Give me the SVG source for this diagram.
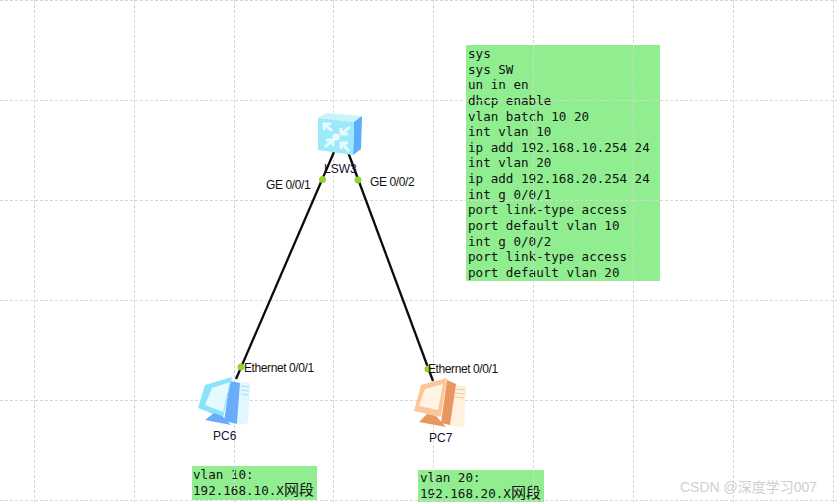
<svg xmlns="http://www.w3.org/2000/svg" width="837" height="502" viewBox="0 0 837 502">
<style>
.grid{stroke:#d6d6d6;stroke-width:1;stroke-dasharray:3 2;fill:none}
.note{fill:#90ee90}
.mono{font-family:"DejaVu Sans Mono","Noto Sans CJK SC",monospace;font-size:12.58px;fill:#111}
.cjk{font-size:15px}
.lbl{font-family:"Liberation Sans",Arial,sans-serif;font-size:12px;fill:#111;letter-spacing:-.4px}
.name{font-family:"Liberation Sans",Arial,sans-serif;font-size:12px;fill:#1a1030}
.link{stroke:#0c0c0c;stroke-width:2.300;fill:none}
.dot{fill:#8fd32e}
</style>
<rect width="837" height="502" fill="#fff"/>
<g id="note-config">
<rect class="note" x="466" y="45" width="194" height="236"/>
<text class="mono" xml:space="preserve"><tspan x="468" y="58">sys</tspan><tspan x="468" y="73.6">sys SW</tspan><tspan x="468" y="89.2">un in en</tspan><tspan x="468" y="104.9">dhcp enable</tspan><tspan x="468" y="120.5">vlan batch 10 20</tspan><tspan x="468" y="136.1">int vlan 10</tspan><tspan x="468" y="151.8">ip add 192.168.10.254 24</tspan><tspan x="468" y="167.4">int vlan 20</tspan><tspan x="468" y="183">ip add 192.168.20.254 24</tspan><tspan x="468" y="198.7">int g 0/0/1</tspan><tspan x="468" y="214.3">port link-type access</tspan><tspan x="468" y="229.9">port default vlan 10</tspan><tspan x="468" y="245.6">int g 0/0/2</tspan><tspan x="468" y="261.2">port link-type access</tspan><tspan x="468" y="276.8">port default vlan 20</tspan></text>
</g>
<g id="note-vlan10">
<rect class="note" x="192" y="466" width="125" height="34"/>
<text class="mono"><tspan x="193" y="479">vlan 10:</tspan><tspan x="193" y="495">192.168.10.X<tspan class="cjk">网段</tspan></tspan></text>
</g>
<g id="note-vlan20">
<rect class="note" x="418" y="470" width="126" height="32"/>
<text class="mono"><tspan x="420" y="482">vlan 20:</tspan><tspan x="420" y="498">192.168.20.X<tspan class="cjk">网段</tspan></tspan></text>
</g>
<g id="grid">
<path class="grid" d="M34.500 0V502M134.500 0V502M234.500 0V502M333.500 0V502M433.500 0V502M533.500 0V502M633.500 0V502M733.500 0V502M833.500 0V502M0 .5H837M0 100.500H837M0 200.500H837M0 300.500H837M0 400.500H837M0 500.500H837"/>
</g>
<g id="connectors">
<path class="link" d="M334 152L236 379"/>
<path class="link" d="M348 152L433 381"/>
</g>
<g id="LSW3">
<polygon points="318,118 327,113 362,116 354,122" fill="#c8f4fb"/>
<polygon points="354,122 362,116 361,149 353,155" fill="#5aaefc"/>
<polygon points="318,118 354,122 353,155 318,150" fill="#9ceaf9"/>
<g stroke="#e8fcff" stroke-width="2.800" fill="none">
<path d="M324 124L332 131M324 130V124H331"/>
<path d="M350 127L341 134M341 128V134H348"/>
<path d="M325 147L333 140M326 140H333V146"/>
<path d="M349 151L341 143M341 149V143H348"/>
</g>
<circle cx="336" cy="137" r="3.500" fill="#e8fbff"/>
<text class="name" x="324" y="173">LSW3</text>
</g>
<g id="PC6">
<polygon points="240,382 250,383 248,423 238,425" fill="#e2f6fd"/>
<path d="M241 386L249 387M241 390L249 391M241 394L249 395" stroke="#a9dcf5" stroke-width="1" fill="none"/>
<polygon points="230,381 240,383 237,424 224,421" fill="#69adfa"/>
<polygon points="205,385 232,377 223,418 198,408" fill="#8be3fb"/>
<polygon points="212,388 230,382 223,412 205,405" fill="#e4fafe"/>
<polygon points="214,413 222,416 231,425 205,420" fill="#69adfa"/>
<text class="name" x="213" y="440">PC6</text>
</g>
<g id="PC7">
<polygon points="454,385 466,386 464,427 450,426" fill="#fff1dd"/>
<path d="M455 389L465 390M455 393L465 394M455 397L464 398" stroke="#f2c9a3" stroke-width="1" fill="none"/>
<polygon points="447,380 456,384 450,425 441,423" fill="#e7975f"/>
<polygon points="421,385 447,378 441,417 414,411" fill="#fbc79a"/>
<polygon points="425,389 443,384 438,410 419,406" fill="#fff3e3"/>
<polygon points="427,414 436,416 446,427 419,422" fill="#e7975f"/>
<text class="name" x="429" y="442">PC7</text>
</g>
<g id="port-labels">
<circle class="dot" cx="322.500" cy="179.500" r="3.500"/>
<circle class="dot" cx="358" cy="180" r="3.500"/>
<circle class="dot" cx="241" cy="367" r="3.500"/>
<circle class="dot" cx="428" cy="369" r="3.500"/>
<text class="lbl" x="266" y="189">GE 0/0/1</text>
<text class="lbl" x="370" y="186">GE 0/0/2</text>
<text class="lbl" x="244" y="372">Ethernet 0/0/1</text>
<text class="lbl" x="428" y="373">Ethernet 0/0/1</text>
</g>
<g id="watermark">
<text x="680" y="492" font-family="'Liberation Sans','Noto Sans CJK SC',sans-serif" font-size="14" fill="#cfcfcf">CSDN @深度学习007</text>
</g>
</svg>
